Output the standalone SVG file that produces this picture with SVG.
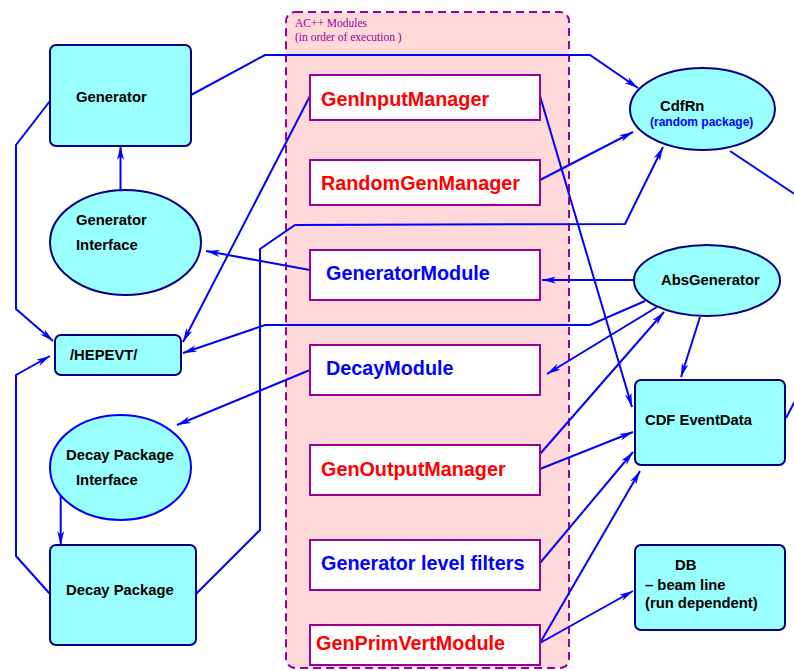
<svg xmlns="http://www.w3.org/2000/svg" width="794" height="671" viewBox="0 0 794 671">
<style>
.node{fill:#99ffff;stroke:#000088;stroke-width:2}
.nodeb{fill:#99ffff;stroke:#0000ff;stroke-width:2}
.mod{fill:#ffffff;stroke:#990099;stroke-width:2}
.lbl{font-family:"Liberation Sans",Arial,sans-serif;font-weight:bold;font-size:14.8px;fill:#000000}
.mt{font-family:"Liberation Sans",Arial,sans-serif;font-weight:bold;font-size:19.8px}
.red{fill:#ff0000}
.blue{fill:#0000ff}
.c{fill:none;stroke:#0000ff;stroke-width:2}
.a{marker-end:url(#arr)}
.cl{font-family:"Liberation Serif","Times New Roman",serif;font-size:11.5px;fill:#990099}
</style>
<defs>
<marker id="arr" viewBox="0 0 14 7" markerWidth="14" markerHeight="7" refX="14" refY="3.5" orient="auto" markerUnits="userSpaceOnUse">
<path d="M0,0 L14,3.5 L0,7 L4,3.5 Z" fill="#0000ff"/>
</marker>
</defs>
<rect width="794" height="671" fill="#ffffff"/>

<g id="container">
<rect x="286" y="12" width="283" height="656" rx="9" fill="#ffd9d9" stroke="#990099" stroke-width="2" stroke-dasharray="8,5"/>
<text class="cl" x="295" y="27">AC++ Modules</text>
<text class="cl" x="295" y="41">(in order of execution )</text>
</g>

<g id="connectors">
<polyline class="c a" points="191,95 265,55 590,55 638,88"/>
<polyline class="c a" points="50,101 16,145 16,309 53,341"/>
<polyline class="c a" points="50,594 16,556 16,375 50,356"/>
<line class="c a" x1="310" y1="96" x2="183" y2="342"/>
<line class="c a" x1="310" y1="270" x2="206" y2="251"/>
<polyline class="c a" points="645,301 590,325 265,325 183,353"/>
<line class="c a" x1="634" y1="280" x2="542" y2="280"/>
<line class="c a" x1="657" y1="307" x2="547" y2="374"/>
<line class="c a" x1="540" y1="454" x2="664" y2="312"/>
<line class="c a" x1="540" y1="469" x2="633" y2="432"/>
<line class="c a" x1="540" y1="563" x2="633" y2="452"/>
<line class="c a" x1="540" y1="643" x2="640" y2="471"/>
<line class="c a" x1="540" y1="643" x2="633" y2="591"/>
<line class="c a" x1="540" y1="180" x2="633" y2="132"/>
<polyline class="c a" points="196,594 260,530 260,249 295,225 625,224 663,147"/>
<line class="c a" x1="540" y1="96" x2="632" y2="407"/>
<line class="c a" x1="310" y1="370" x2="177" y2="425"/>
<line class="c a" x1="700" y1="317" x2="681" y2="377"/>
<line class="c a" x1="120.5" y1="190" x2="120.5" y2="146"/>
<line class="c a" x1="60.7" y1="495" x2="60.7" y2="545"/>
<line class="c" x1="730" y1="151" x2="796" y2="195"/>
<line class="c" x1="786" y1="418" x2="796" y2="399"/>
</g>

<g id="generator">
<rect class="node" x="50" y="45" width="141" height="101" rx="6"/>
<text class="lbl" x="76" y="102">Generator</text>
</g>
<g id="generator-interface">
<ellipse class="node" cx="125.5" cy="242.5" rx="75.5" ry="52.5"/>
<text class="lbl" x="76" y="225">Generator</text>
<text class="lbl" x="76" y="250">Interface</text>
</g>
<g id="hepevt">
<rect class="node" x="55" y="335" width="126" height="40" rx="6"/>
<text class="lbl" x="70" y="360">/HEPEVT/</text>
</g>
<g id="decay-package-interface">
<ellipse class="nodeb" cx="120.5" cy="467.5" rx="70.5" ry="52.5"/>
<text class="lbl" x="66" y="460">Decay Package</text>
<text class="lbl" x="76" y="485">Interface</text>
</g>
<g id="decay-package">
<rect class="node" x="50" y="545" width="146" height="100" rx="6"/>
<text class="lbl" x="66" y="595">Decay Package</text>
</g>

<g id="gen-input-manager">
<rect class="mod" x="310" y="75" width="230" height="45"/>
<text class="mt red" x="321" y="106">GenInputManager</text>
</g>
<g id="random-gen-manager">
<rect class="mod" x="310" y="160" width="230" height="45"/>
<text class="mt red" x="321" y="190">RandomGenManager</text>
</g>
<g id="generator-module">
<rect class="mod" x="310" y="250" width="230" height="50"/>
<text class="mt blue" x="326" y="280">GeneratorModule</text>
</g>
<g id="decay-module">
<rect class="mod" x="310" y="345" width="230" height="50"/>
<text class="mt blue" x="326" y="375">DecayModule</text>
</g>
<g id="gen-output-manager">
<rect class="mod" x="310" y="445" width="230" height="50"/>
<text class="mt red" x="321" y="476">GenOutputManager</text>
</g>
<g id="generator-level-filters">
<rect class="mod" x="310" y="540" width="230" height="50"/>
<text class="mt blue" x="321" y="570">Generator level filters</text>
</g>
<g id="gen-prim-vert-module">
<rect class="mod" x="310" y="625" width="230" height="40"/>
<text class="mt red" x="316" y="650">GenPrimVertModule</text>
</g>

<g id="cdfrn">
<ellipse class="node" cx="702.5" cy="109" rx="72.5" ry="41"/>
<text class="lbl" x="660" y="111">CdfRn</text>
<text x="650" y="126" font-family="Liberation Sans,Arial,sans-serif" font-weight="bold" font-size="12" fill="#0000ff">(random package)</text>
</g>
<g id="absgenerator">
<ellipse class="node" cx="707" cy="280.5" rx="73" ry="35.5"/>
<text class="lbl" x="661" y="285">AbsGenerator</text>
</g>
<g id="cdf-eventdata">
<rect class="node" x="635" y="380" width="150" height="85" rx="6"/>
<text class="lbl" x="645" y="425">CDF EventData</text>
</g>
<g id="db">
<rect class="node" x="635" y="545" width="150" height="85" rx="6"/>
<text class="lbl" x="675" y="570">DB</text>
<text class="lbl" x="645" y="590">– beam line</text>
<text class="lbl" x="645" y="608">(run dependent)</text>
</g>
</svg>
